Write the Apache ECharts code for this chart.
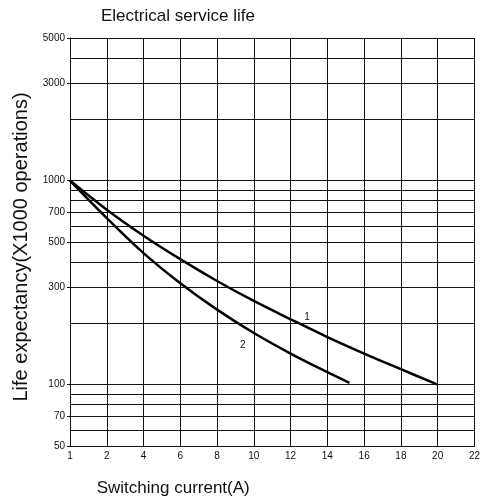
<!DOCTYPE html>
<head>
    <meta charset="utf-8">
    <title>Electrical service life</title>
    <script type="text/javascript" src="https://cdn.jsdelivr.net/npm/echarts@6/dist/echarts.min.js"></script>
    <style>
        html, body { margin: 0; padding: 0; background: #fff; }
    </style>
</head>

<body>
<div id="main" style="width:483px;height:502px"></div>

<script type="text/javascript">

// curve 1 and curve 2 (current in A, life in x1000 operations)
var current1 = [1, 2, 4, 6, 8, 10, 12, 14, 16, 18, 20];
var life1    = [1000, 720, 537, 412, 322, 257, 209, 171, 142, 119, 100];
var current2 = [1, 2, 4, 6, 8, 10, 12, 14, 15.2];
var life2    = [1000, 655, 441, 314, 233, 179, 142, 115, 102];

// axis ticks
var xTicks = [1, 2, 4, 6, 8, 10, 12, 14, 16, 18, 20, 22];
var yLabels = [50, 70, 100, 300, 500, 700, 1000, 3000, 5000];
var yGrid = [50, 60, 70, 80, 90, 100, 200, 300, 400, 500, 600, 700, 800, 900, 1000, 2000, 3000, 4000, 5000];

// on the original the first grid step covers 1 -> 2 A, the others 2 A each
function xPos(a) {
    return a < 2 ? (a - 1) * 2 : a;
}

function pairs(xs, ys) {
    var out = [];
    for (var i = 0; i < xs.length; i++) {
        out.push([xPos(xs[i]), ys[i]]);
    }
    return out;
}

// small text tag sitting on the curve, e.g. "1" / "2"
function curveTag(text, a, v) {
    return {
        symbol: 'circle',
        symbolSize: 1,
        itemStyle: { color: 'rgba(0,0,0,0)' },
        label: { show: true, position: 'inside', formatter: text, fontFamily: font, fontSize: 10, color: '#111' },
        data: [{ coord: [xPos(a), v] }]
    };
}

var font = 'Liberation Sans, Arial, sans-serif';
var myChart = echarts.init(document.getElementById('main'));

var option = {
    animation: false,
    title: {
        text: 'Electrical service life',
        left: 101,
        top: 8,
        padding: 0,
        textStyle: { fontFamily: font, fontSize: 17, fontWeight: 'normal', color: '#111' }
    },
    grid: { left: 70, right: 8, top: 38, bottom: 54 },
    xAxis: {
        type: 'value',
        min: 0,
        max: 22,
        interval: 2,
        name: 'Switching current(A)',
        nameLocation: 'middle',
        nameGap: 34,
        nameTextStyle: { fontFamily: font, fontSize: 17, color: '#111', padding: [0, 198, 0, 0] },
        axisLine: { lineStyle: { color: '#111', width: 1 } },
        axisTick: { show: false },
        axisLabel: {
            margin: 5,
            fontFamily: font,
            fontSize: 10,
            color: '#111',
            formatter: function (v) {
                return v === 0 ? String(xTicks[0]) : String(v);
            }
        },
        splitLine: { show: true, lineStyle: { color: '#111', width: 1, type: 'solid' } }
    },
    yAxis: {
        type: 'log',
        logBase: 10,
        min: 50,
        max: 5000,
        name: 'Life expectancy(X1000 operations)',
        nameLocation: 'middle',
        nameRotate: 90,
        nameGap: 26,
        nameTextStyle: { fontFamily: font, fontSize: 20, color: '#111', padding: [0, 10, 0, 0] },
        axisLine: { show: true, lineStyle: { color: '#111', width: 1 } },
        axisTick: { show: true, length: 3, customValues: yLabels, lineStyle: { color: '#111' } },
        axisLabel: {
            customValues: yLabels,
            margin: 5,
            fontFamily: font,
            fontSize: 10,
            color: '#111',
            formatter: function (v) {
                return String(Math.round(v));
            }
        },
        splitLine: { show: false }
    },
    series: [
        {
            name: '1',
            type: 'line',
            smooth: 0.35,
            symbol: 'none',
            data: pairs(current1, life1),
            lineStyle: { color: '#000', width: 2.5 },
            markLine: {
                silent: true,
                symbol: ['none', 'none'],
                label: { show: false },
                lineStyle: { color: '#111', width: 1, type: 'solid' },
                data: yGrid.map(function (v) { return { yAxis: v }; })
            },
            markPoint: curveTag('1', 12.9, 215)
        },
        {
            name: '2',
            type: 'line',
            smooth: 0.35,
            symbol: 'none',
            data: pairs(current2, life2),
            lineStyle: { color: '#000', width: 2.5 },
            markPoint: curveTag('2', 9.4, 156)
        }
    ]
};

myChart.setOption(option);

</script>
</body>
